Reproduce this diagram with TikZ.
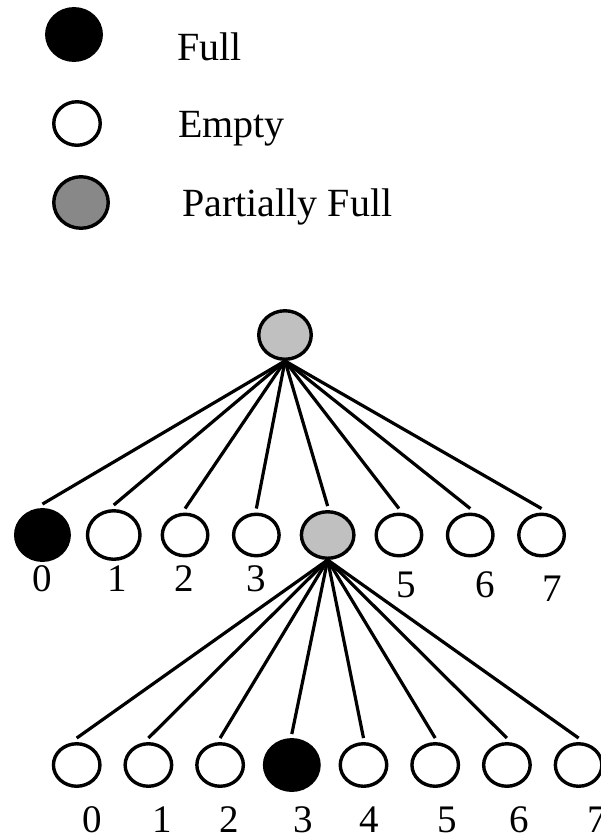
\documentclass[tikz,border=0pt]{standalone}
\usepackage{fontspec}
\setmainfont{Liberation Serif}
\usepackage{tikz}
\usetikzlibrary{trees,shapes.geometric}
\definecolor{nodegray}{HTML}{C0C0C0}
\definecolor{keygray}{HTML}{888888}

\begin{document}
\begin{tikzpicture}[x=1pt,y=-1pt,
  slot/.style={ellipse,draw=black,line width=3.4pt,fill=white,inner sep=0pt,minimum width=45.5pt,minimum height=41.5pt},
  full/.style={slot,fill=black,minimum width=53.5pt,minimum height=50.5pt},
  part/.style={slot,fill=nodegray,minimum width=52.5pt,minimum height=48.5pt},
  num/.style={anchor=base,inner sep=0pt,font=\fontsize{39}{44}\selectfont},
  txt/.style={anchor=base west,inner sep=0pt,font=\fontsize{40}{48}\selectfont},
  level 1/.style={grow via three points={one child at (7,200) and two children at (-28.65,200) and (42.65,200)}},
  level 2/.style={grow via three points={one child at (0,230) and two children at (-35.85,230) and (35.85,230)}},
  edge from parent/.style={draw=black,line width=3.2pt},
  edge from parent path={(\tikzparentnode.south) -- ([yshift=4pt]\tikzchildnode.north)}]
\useasboundingbox (0,0) rectangle (601,839);
% key
\node[full,minimum width=54.5pt,minimum height=51.5pt] (kfull) at (74,34.5) {};
\node[slot,minimum width=46.5pt,minimum height=43.5pt] (kempty) at (77,123.5) {};
\node[part,fill=keygray,minimum width=54.5pt,minimum height=51.5pt] (kpart) at (81,202.5) {};
\node[txt] (tfull) at (177,60) {Full};
\node[txt] (tempty) at (178,137) {Empty};
\node[txt] (tpart) at (182,216.5) {Partially Full};
% tree
\node[part] (root) at (285,335) {}
  child {node[full] (c0) {}}
  child {node[slot,minimum width=52.5pt,minimum height=48.5pt] (c1) {}}
  child {node[slot] (c2) {}}
  child {node[slot] (c3) {}}
  child {node[part,minimum height=46.5pt] (c4) {}
    child {node[slot,minimum width=46.5pt,minimum height=42.5pt] (d0) {}}
    child {node[slot,minimum width=46.5pt,minimum height=42.5pt] (d1) {}}
    child {node[slot,minimum width=46.5pt,minimum height=42.5pt] (d2) {}}
    child {node[full,minimum width=54.5pt] (d3) {}}
    child {node[slot,minimum width=46.5pt,minimum height=42.5pt] (d4) {}}
    child {node[slot,minimum width=46.5pt,minimum height=42.5pt] (d5) {}}
    child {node[slot,minimum width=46.5pt,minimum height=42.5pt] (d6) {}}
    child {node[slot,minimum width=46.5pt,minimum height=42.5pt] (d7) {}}}
  child {node[slot] (c5) {}}
  child {node[slot] (c6) {}}
  child {node[slot] (c7) {}};
% numbers
\foreach \n/\x/\y in {0/42/591,1/117/591,2/184/591,3/256/591,5/406/597,6/485/597,7/552/601}
  \node[num] (top\n) at (\x,\y) {\n};
\foreach \n/\x in {0/92,1/162,2/229,3/303,4/369,5/447,6/519,7/597}
  \node[num] (bot\n) at (\x,832) {\n};
\end{tikzpicture}
\end{document}
